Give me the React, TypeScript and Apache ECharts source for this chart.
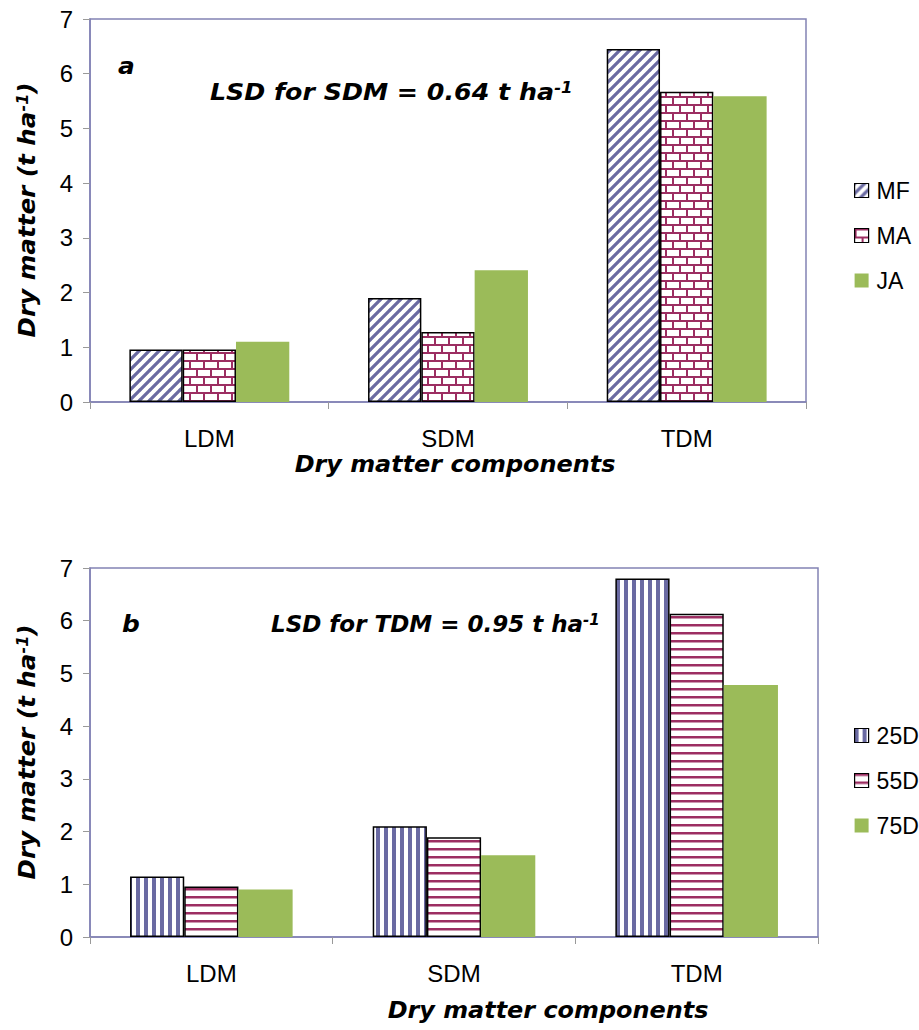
import React, { useEffect, useRef } from "react";
import * as echarts from "echarts";

const categories = ["LDM", "SDM", "TDM"];
const namesA = ["MF", "MA", "JA"];
const mfValues = [0.96, 1.9, 6.45];
const maValues = [0.96, 1.28, 5.67];
const jaValues = [1.1, 2.41, 5.59];
const namesB = ["25D", "55D", "75D"];
const d25Values = [1.15, 2.1, 6.8];
const d55Values = [0.96, 1.89, 6.13];
const d75Values = [0.9, 1.55, 4.78];
const yMin = 0;
const yMax = 7;
const yStep = 1;
const panelLabels = ["a", "b"];
const lsdTexts = ["LSD for SDM = 0.64 t ha", "LSD for TDM = 0.95 t ha"];
const xTitle = "Dry matter components";
const yTitle = "Dry matter (t ha";

const BLUE = "#6a6aa2";
const RED = "#9c2e62";
const GREEN = "#9bbb59";
const FRAME = "#8282b4";

function tile(w: number, h: number, draw: (ctx: CanvasRenderingContext2D) => void) {
  const c = document.createElement("canvas");
  c.width = w;
  c.height = h;
  const ctx = c.getContext("2d") as CanvasRenderingContext2D;
  ctx.fillStyle = "#ffffff";
  ctx.fillRect(0, 0, w, h);
  draw(ctx);
  return { image: c, repeat: "repeat", imageWidth: w, imageHeight: h } as any;
}

function makePatterns() {
  const diag = tile(10, 10, (ctx) => {
    ctx.strokeStyle = BLUE;
    ctx.lineWidth = 3.2;
    ctx.beginPath();
    ctx.moveTo(-1, 11);
    ctx.lineTo(11, -1);
    ctx.moveTo(-1, 1);
    ctx.lineTo(1, -1);
    ctx.moveTo(9, 11);
    ctx.lineTo(11, 9);
    ctx.stroke();
  });
  const brick = tile(14, 16, (ctx) => {
    ctx.strokeStyle = RED;
    ctx.lineWidth = 2;
    ctx.beginPath();
    ctx.moveTo(0, 1);
    ctx.lineTo(14, 1);
    ctx.moveTo(0, 9);
    ctx.lineTo(14, 9);
    ctx.moveTo(1, 1);
    ctx.lineTo(1, 9);
    ctx.moveTo(8, 9);
    ctx.lineTo(8, 17);
    ctx.stroke();
  });
  const vert = tile(8, 8, (ctx) => {
    ctx.fillStyle = BLUE;
    ctx.fillRect(0, 0, 4, 8);
  });
  const horiz = tile(8, 8, (ctx) => {
    ctx.fillStyle = RED;
    ctx.fillRect(0, 0, 8, 2.5);
  });
  return { diag, brick, vert, horiz };
}

const boldItalic = {
  fontFamily: "DejaVu Sans",
  fontWeight: "bold",
  fontStyle: "italic",
};

function supRich(size: number) {
  return {
    s: {
      ...boldItalic,
      fontSize: size,
      fill: "#000",
      verticalAlign: "top",
    },
  };
}

export default function App() {
  const ref = useRef<HTMLDivElement>(null);
  useEffect(() => {
    document.body.style.margin = "0";
    if (!ref.current) return;
    const chart = echarts.init(ref.current, null, { renderer: "svg" });
    const p = makePatterns();

    const grids = [
      { left: 90, top: 19, right: 113, bottom: 628 },
      { left: 90, top: 568, right: 101, bottom: 93 },
    ];

    const xAxis = grids.map((_, i) => ({
      type: "category",
      gridIndex: i,
      data: categories,
      axisLine: { show: true, lineStyle: { color: FRAME, width: 1.5 } },
      axisTick: { show: true, length: 7, lineStyle: { color: "#999" } },
      axisLabel: { fontSize: 24, fontFamily: "Liberation Sans", color: "#000", margin: 24 },
    }));
    const yAxis = grids.map((_, i) => ({
      type: "value",
      gridIndex: i,
      min: yMin,
      max: yMax,
      interval: yStep,
      axisLine: { show: true, lineStyle: { color: FRAME, width: 1.5 } },
      axisTick: { show: true, length: 7, lineStyle: { color: "#999" } },
      axisLabel: { fontSize: 24, fontFamily: "Liberation Sans", color: "#000", margin: 17 },
      splitLine: { show: false },
    }));

    const border = { borderColor: "#000", borderWidth: 1.5 };
    const mk = (name: string, data: number[], idx: number, color: any, bordered: boolean) => ({
      name,
      type: "bar",
      xAxisIndex: idx,
      yAxisIndex: idx,
      data,
      barGap: "0%",
      barCategoryGap: "33%",
      itemStyle: bordered ? { color, ...border } : { color, borderWidth: 0 },
    });

    const series = [
      mk(namesA[0], mfValues, 0, p.diag, true),
      mk(namesA[1], maValues, 0, p.brick, true),
      mk(namesA[2], jaValues, 0, GREEN, false),
      mk(namesB[0], d25Values, 1, p.vert, true),
      mk(namesB[1], d55Values, 1, p.horiz, true),
      mk(namesB[2], d75Values, 1, GREEN, false),
    ];

    const legendBase = {
      orient: "vertical",
      left: 849,
      itemWidth: 14,
      itemHeight: 14,
      itemGap: 22,
      icon: "rect",
      textStyle: { fontSize: 23, fontFamily: "Liberation Sans", color: "#000", padding: [0, 0, 0, 3] },
    };
    const legendItems = (names: string[]) =>
      names.map((n, i) => ({
        name: n,
        itemStyle: i < 2 ? { borderColor: "#000", borderWidth: 1.2 } : { borderWidth: 0 },
      }));

    const textEl = (text: string, x: number, y: number, size: number, sx: number, align: string, rotation = 0, sup = true) => ({
      type: "text",
      x,
      y,
      z: 100,
      zlevel: 0,
      rotation,
      scaleX: sx,
      style: {
        text: sup ? text + "{s|-1}" : text,
        ...boldItalic,
        fontSize: size,
        fill: "#000",
        textAlign: align,
        align,
        textVerticalAlign: "middle",
        verticalAlign: "middle",
        rich: supRich(15),
      },
    });

    const graphic = [
      textEl(panelLabels[0], 118, 66, 23, 1.08, "left", 0, false),
      textEl(lsdTexts[0], 210, 92, 23, 1.1, "left"),
      textEl(xTitle, 455, 464, 23, 1.04, "center", 0, false),
      textEl(yTitle + "{s|-1})", 27, 210, 23, 1.07, "center", Math.PI / 2, false),
      textEl(panelLabels[1], 122, 624, 23, 1.08, "left", 0, false),
      textEl(lsdTexts[1], 271, 624, 23, 1.0, "left"),
      textEl(xTitle, 548, 1010, 23, 1.04, "center", 0, false),
      textEl(yTitle + "{s|-1})", 27, 752, 23, 1.07, "center", Math.PI / 2, false),
    ];

    chart.setOption({
      animation: false,
      backgroundColor: "#fff",
      grid: grids.map((g) => ({ ...g, show: true, borderColor: FRAME, borderWidth: 1.5, backgroundColor: "transparent" })),
      xAxis,
      yAxis,
      legend: [
        { ...legendBase, top: 174, data: legendItems(namesA) },
        { ...legendBase, top: 719, data: legendItems(namesB) },
      ],
      series,
      graphic: { elements: graphic },
    } as any);
    return () => chart.dispose();
  }, []);
  return <div ref={ref} style={{ width: 919, height: 1030 }} />;
}
